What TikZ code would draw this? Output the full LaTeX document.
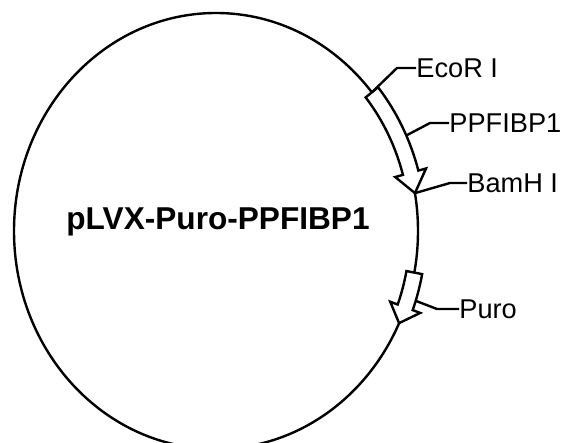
\documentclass[tikz,border=0pt]{standalone}
\usepackage{fontspec}
\setmainfont{Liberation Sans}
\usetikzlibrary{calc, positioning}
% ellipse radii of the backbone, of the gene body and of the gene head
\def\ra{202}
\def\rb{218}
\def\rao{210}
\def\rbo{226}
\def\rai{194}
\def\rbi{210}
\def\rah{218}
\def\rbh{234}
\def\ram{186}
\def\rbm{202}
\tikzset{
    backbone/.style = {
        draw, line width=1.2pt
    },
    feature/.style = {
        draw, fill=white, line width=1.2pt, line join=miter
    },
    tag/.style = {
        inner sep=0pt, anchor=west, font=\fontsize{13.6}{16}\selectfont
    },
    tagline/.style = {
        draw, line width=1.2pt
    },
}
% gene arrow from angle #1, head base at #2, tip at #3
\newcommand{\genearrow}[3]{%
    \draw[feature] ([shift={(ctr)}]#1:{\rao} and {\rbo})
        arc[start angle=#1, end angle=#2, x radius=\rao, y radius=\rbo]
        -- ([shift={(ctr)}]#2:{\rah} and {\rbh})
        -- ([shift={(ctr)}]#3:{\ra} and {\rb})
        -- ([shift={(ctr)}]#2:{\ram} and {\rbm})
        -- ([shift={(ctr)}]#2:{\rai} and {\rbi})
        arc[start angle=#2, end angle=#1, x radius=\rai, y radius=\rbi]
        -- cycle;%
}
\begin{document}
\begin{tikzpicture}[x=0.5pt, y=0.5pt]
        \useasboundingbox (0,0) rectangle (563,443);

        % Backbone
        \coordinate (ctr) at (216,212);
        \draw[backbone] (ctr) ellipse [x radius=\ra, y radius=\rb];
        \node[font=\fontsize{15.8}{19}\selectfont\bfseries] (title) at (218,221) {pLVX-Puro-PPFIBP1};

        % Genes
        \genearrow{39.5}{15.5}{10}
        \genearrow{-11}{-20.5}{-25}

        % Sites on the ring
        \coordinate (ecosite) at ([shift={(ctr)}]39.5:{\ra} and {\rb});
        \coordinate (insertsite) at ([shift={(ctr)}]25:{\rao} and {\rbo});
        \coordinate (bamsite) at ([shift={(ctr)}]10:{\ra} and {\rb});
        \coordinate (purosite) at ([shift={(ctr)}]-18:{\rao} and {\rbo});

        % Labels
        \node[tag] (ecor) at (416,375) {EcoR I};
        \node[tag] (insert) at (449,320) {PPFIBP1};
        \node[tag] (bamh) at (467,260) {BamH I};
        \node[tag] (puro) at (459,134) {Puro};

        % Label lines
        \draw[tagline] (ecosite) -- ([xshift=-9.5pt]ecor.west) -- (ecor.west);
        \draw[tagline] (insertsite) -- ([xshift=-9.5pt]insert.west) -- (insert.west);
        \draw[tagline] (bamsite) -- ([xshift=-8.5pt]bamh.west) -- (bamh.west);
        \draw[tagline] (purosite) -- ([xshift=-11pt]puro.west) -- (puro.west);
    \end{tikzpicture}
\end{document}
